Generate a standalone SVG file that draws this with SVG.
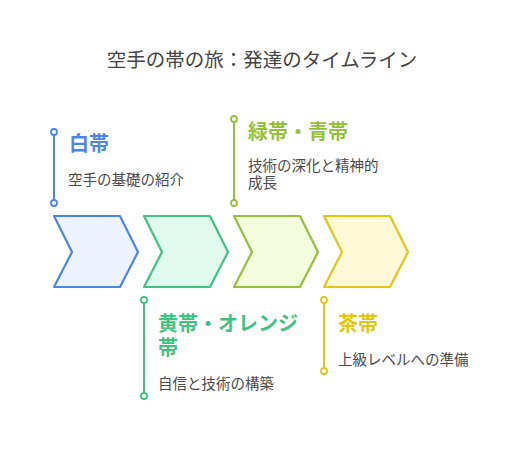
<svg xmlns="http://www.w3.org/2000/svg" width="528" height="468" viewBox="0 0 528 468">
<style>
text{font-family:"Noto Sans CJK JP","Noto Sans",sans-serif}
.t{font-size:19.5px;fill:#444}
.h{font-size:20px;font-weight:bold}
.d{font-size:14.5px;fill:#4a4a4a}
.chev{stroke-width:2.2;stroke-linejoin:round}
.ln{stroke-width:2;fill:none}
.dot{fill:#fff;stroke-width:1.8}
</style>
<rect width="528" height="468" fill="#fff"/>
<text class="t" x="262" y="67" text-anchor="middle">空手の帯の旅：発達のタイムライン</text>
<g id="connectors">
<line class="ln" x1="54" y1="132" x2="54" y2="203" stroke="#4a86e8"/>
<circle class="dot" cx="54" cy="132" r="3" stroke="#4a86e8"/>
<circle class="dot" cx="54" cy="203" r="3" stroke="#4a86e8"/>
<line class="ln" x1="234" y1="119" x2="234" y2="203" stroke="#93c13c"/>
<circle class="dot" cx="234" cy="119" r="3" stroke="#93c13c"/>
<circle class="dot" cx="234" cy="203" r="3" stroke="#93c13c"/>
<line class="ln" x1="144" y1="300" x2="144" y2="396" stroke="#3cc480"/>
<circle class="dot" cx="144" cy="300" r="3" stroke="#3cc480"/>
<circle class="dot" cx="144" cy="396" r="3" stroke="#3cc480"/>
<line class="ln" x1="324" y1="300" x2="324" y2="371" stroke="#e2c613"/>
<circle class="dot" cx="324" cy="300" r="3" stroke="#e2c613"/>
<circle class="dot" cx="324" cy="371" r="3" stroke="#e2c613"/>
</g>
<g id="white">
<polygon class="chev" points="54,216 120,216 138,252 120,287 54,287 72,252" fill="#ecf2fe" stroke="#4a86e8"/>
<text class="h" x="69" y="151" fill="#4a86e8">白帯</text>
<text class="d" x="68" y="185">空手の基礎の紹介</text>
</g>
<g id="yellow-orange">
<polygon class="chev" points="144,216 210,216 228,252 210,287 144,287 162,252" fill="#e0fbee" stroke="#3cc480"/>
<text class="h" x="158" y="331" fill="#3cc480">黄帯・オレンジ</text>
<text class="h" x="158" y="355" fill="#3cc480">帯</text>
<text class="d" x="158" y="389">自信と技術の構築</text>
</g>
<g id="green-blue">
<polygon class="chev" points="234,216 300,216 318,252 300,287 234,287 252,252" fill="#f3fcdc" stroke="#93c13c"/>
<text class="h" x="248" y="139" fill="#93c13c">緑帯・青帯</text>
<text class="d" x="248" y="171">技術の深化と精神的</text>
<text class="d" x="248" y="188">成長</text>
</g>
<g id="brown">
<polygon class="chev" points="324,216 390,216 408,252 390,287 324,287 342,252" fill="#fff9d8" stroke="#e2c613"/>
<text class="h" x="338" y="331" fill="#e2c613">茶帯</text>
<text class="d" x="338" y="365">上級レベルへの準備</text>
</g>
</svg>
